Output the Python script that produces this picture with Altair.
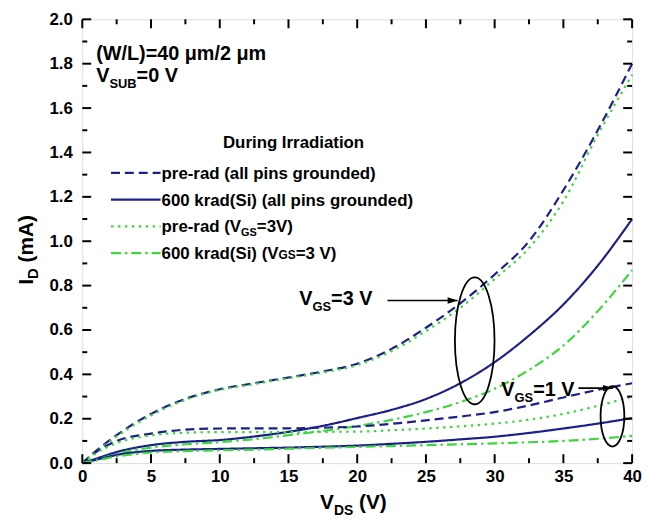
import altair as alt
import pandas as pd

# ---------------- data ----------------
V = [0, 1, 2.5, 5, 7.5, 10, 12.5, 15, 17.5, 20, 22.5, 25, 27.5, 30, 32.5, 35, 37.5, 40]

# V_GS = 3 V group
pre_gnd_3 = [0, 0.055, 0.126, 0.222, 0.289, 0.333, 0.36, 0.386, 0.413, 0.448, 0.515, 0.61, 0.72, 0.85, 1.0, 1.23, 1.5, 1.8]
pre_vgs_3 = [0, 0.05, 0.12, 0.215, 0.285, 0.33, 0.356, 0.383, 0.408, 0.442, 0.505, 0.595, 0.70, 0.83, 0.97, 1.18, 1.48, 1.75]
rad_gnd_3 = [0, 0.02, 0.05, 0.081, 0.096, 0.104, 0.12, 0.141, 0.168, 0.203, 0.24, 0.289, 0.36, 0.455, 0.575, 0.715, 0.89, 1.1]
rad_vgs_3 = [0, 0.015, 0.042, 0.07, 0.085, 0.095, 0.108, 0.126, 0.145, 0.167, 0.195, 0.23, 0.275, 0.335, 0.42, 0.53, 0.685, 0.87]

# V_GS = 1 V group
pre_gnd_1 = [0, 0.05, 0.1, 0.133, 0.151, 0.156, 0.157, 0.157, 0.16, 0.165, 0.177, 0.193, 0.21, 0.23, 0.26, 0.296, 0.33, 0.36]
pre_vgs_1 = [0, 0.045, 0.09, 0.125, 0.137, 0.14, 0.14, 0.14, 0.141, 0.142, 0.148, 0.156, 0.166, 0.178, 0.196, 0.222, 0.258, 0.30]
rad_gnd_1 = [0, 0.015, 0.037, 0.055, 0.061, 0.064, 0.067, 0.07, 0.074, 0.079, 0.087, 0.096, 0.107, 0.119, 0.136, 0.156, 0.178, 0.203]
rad_vgs_1 = [0, 0.012, 0.03, 0.048, 0.054, 0.058, 0.061, 0.065, 0.069, 0.073, 0.077, 0.081, 0.085, 0.089, 0.094, 0.10, 0.11, 0.123]

CONDS = ["pre_gnd", "rad_gnd", "pre_vgs", "rad_vgs"]
LEGEND_LABELS = ["pre-rad (all pins grounded)", "600 krad(Si) (all pins grounded)",
                 "pre-rad (VGS=3V)", "600 krad(Si) (VGS=3 V)"]

X_MAJOR = [0, 5, 10, 15, 20, 25, 30, 35, 40]
X_MINOR = [2.5, 7.5, 12.5, 17.5, 22.5, 27.5, 32.5, 37.5]
Y_MAJOR = [0.0, 0.2, 0.4, 0.6, 0.8, 1.0, 1.2, 1.4, 1.6, 1.8, 2.0]
Y_MINOR = [0.1, 0.3, 0.5, 0.7, 0.9, 1.1, 1.3, 1.5, 1.7, 1.9]

# annotations (data coordinates)
ARROW_V1 = [22.2, 36.1]
ARROW_V2 = [27.3, 38.6]
ARROW_I = [0.733, 0.338]
ELL_BIG = {"V": [28.55], "I": [0.551]}
ELL_SMALL = {"V": [38.57], "I": [0.211]}

# ---------------- styling ----------------
W, H = 555, 448
FONT = "Liberation Sans"
NAVY = "#1d2088"
GREEN = "#3cd73c"
COLORS = [NAVY, NAVY, GREEN, GREEN]
DASHES = [[9, 5], [1, 0], [2.5, 4.5], [10, 4, 2.5, 4]]

AB = {' ': 278, '(': 333, ')': 333, '=': 584, '/': 278, '-': 333, '.': 278,
      'A': 722, 'B': 722, 'D': 722, 'G': 778, 'I': 278, 'L': 611, 'S': 667, 'U': 722,
      'V': 667, 'W': 944, 'a': 556, 'd': 611, 'e': 556, 'g': 611, 'i': 278, 'k': 556,
      'm': 889, 'n': 611, 'o': 611, 'p': 611, 'r': 389, 's': 556, 't': 333, 'u': 611,
      'l': 278, 'μ': 577}
for _d in "0123456789":
    AB[_d] = 556


def tw(s, size):
    return sum(AB.get(c, 600) for c in s) * size / 1000.0


def text_piece(txt, size, x, y, angle=None):
    kw = dict(align="left", baseline="alphabetic", font=FONT, fontWeight="bold",
              fontSize=size, color="black")
    if angle is not None:
        kw["angle"] = angle
    return alt.Chart(pd.DataFrame({"t": [txt]})).mark_text(**kw).encode(
        x=alt.value(x), y=alt.value(y), text="t:N")


def rich(x0, y0, pieces):
    out = []
    x = x0
    for txt, size, dy in pieces:
        lead = len(txt) - len(txt.lstrip(" "))
        x += tw(" " * lead, size)
        t = txt.strip(" ")
        out.append(text_piece(t, size, x, y0 + dy))
        x += tw(t, size)
    return out


def rich_up(x0, y0, pieces):
    out = []
    y = y0
    for txt, size, dx in pieces:
        lead = len(txt) - len(txt.lstrip(" "))
        y -= tw(" " * lead, size)
        t = txt.strip(" ")
        out.append(text_piece(t, size, x0 + dx, y, angle=270))
        y -= tw(t, size)
    return out


# ---------------- main curves ----------------
rows = []
for cond, g, vals in [("pre_gnd", "3", pre_gnd_3), ("rad_gnd", "3", rad_gnd_3),
                      ("pre_vgs", "3", pre_vgs_3), ("rad_vgs", "3", rad_vgs_3),
                      ("pre_gnd", "1", pre_gnd_1), ("rad_gnd", "1", rad_gnd_1),
                      ("pre_vgs", "1", pre_vgs_1), ("rad_vgs", "1", rad_vgs_1)]:
    for v, i in zip(V, vals):
        rows.append({"V": v, "I": i, "cond": cond, "curve": cond + g})
df = pd.DataFrame(rows)

xs = alt.Scale(domain=[0, 40], nice=False, zero=False)
ys = alt.Scale(domain=[0, 2], nice=False, zero=False)

XAXIS = dict(values=X_MAJOR, format="d", ticks=False, tickSize=0, domain=False, grid=False,
             labelFont=FONT, labelFontSize=17, labelFontWeight="bold", labelColor="black",
             labelPadding=6, labelFlush=False, labelOverlap=False, title=None)
YAXIS = dict(values=Y_MAJOR, format=".1f", ticks=False, tickSize=0, domain=False, grid=False,
             labelFont=FONT, labelFontSize=17, labelFontWeight="bold", labelColor="black",
             labelPadding=10, labelFlush=False, labelOverlap=False, title=None)


def X(field):
    return alt.X(field, scale=xs, axis=alt.Axis(**XAXIS))


def Y(field):
    return alt.Y(field, scale=ys, axis=alt.Axis(**YAXIS))


lines = alt.Chart(df).mark_line(interpolate="monotone", strokeWidth=2.2).encode(
    x=X("V:Q"),
    y=Y("I:Q"),
    color=alt.Color("cond:N", scale=alt.Scale(domain=CONDS, range=COLORS), legend=None),
    strokeDash=alt.StrokeDash("cond:N", scale=alt.Scale(domain=CONDS, range=DASHES), legend=None),
    detail="curve:N",
    order="V:Q",
)

layers = [lines]

# ---------------- inward ticks on all four sides ----------------
def xticks(values, length, top):
    yv = length / 2 if top else H - length / 2
    return alt.Chart(pd.DataFrame({"V": values})).mark_tick(
        orient="vertical", size=length, thickness=2, color="black", opacity=1).encode(
        x=X("V:Q"), y=alt.value(yv))


def yticks(values, length, right):
    xv = W - length / 2 if right else length / 2
    return alt.Chart(pd.DataFrame({"I": values})).mark_tick(
        orient="horizontal", size=length, thickness=2, color="black", opacity=1).encode(
        y=Y("I:Q"), x=alt.value(xv))


for top in (False, True):
    layers.append(xticks(X_MAJOR, 9, top))
    layers.append(xticks(X_MINOR, 5, top))
for right in (False, True):
    layers.append(yticks(Y_MAJOR, 9, right))
    layers.append(yticks(Y_MINOR, 5, right))

# ---------------- legend (drawn inside the plot) ----------------
layers += rich(142, 130, [("During Irradiation", 17, 0)])
LEG_Y = [155, 182, 209, 236]
for k, cond in enumerate(CONDS):
    layers.append(alt.Chart(pd.DataFrame({"c": [cond]})).mark_rule(
        color=COLORS[k], strokeDash=DASHES[k], strokeWidth=2.2).encode(
        x=alt.value(29), x2=alt.value(79), y=alt.value(LEG_Y[k])))
layers += rich(80, LEG_Y[0] + 6, [(LEGEND_LABELS[0], 17, 0)])
layers += rich(80, LEG_Y[1] + 6, [(LEGEND_LABELS[1], 17, 0)])
layers += rich(80, LEG_Y[2] + 6, [("pre-rad (V", 17, 0), ("GS", 11, 4), ("=3V)", 17, 0)])
layers += rich(80, LEG_Y[3] + 6, [("600 krad(Si) (V", 17, 0), ("GS", 12, 0), ("=3 V)", 17, 0)])

# ---------------- text annotations ----------------
layers += rich(14, 41, [("(W/L)=40 μm/2 μm", 20, 0)])
layers += rich(14, 63, [("V", 20, 0), ("SUB", 13, 6), ("=0 V", 20, 0)])
layers += rich(219, 288, [("V", 20, 0), ("GS", 13, 6), ("=3 V", 20, 0)])
layers += rich(423, 380, [("V", 20, 0), ("GS", 13, 6), ("=1 V", 20, 0)])

# arrows
arr = pd.DataFrame({"V": ARROW_V1, "V2": ARROW_V2, "I": ARROW_I})
layers.append(alt.Chart(arr).mark_rule(color="black", strokeWidth=1.6).encode(
    x=X("V:Q"), x2="V2:Q", y=Y("I:Q")))
HEAD = "M0,0 L-1,-0.32 L-1,0.32 Z"
head = pd.DataFrame({"V": ARROW_V2, "I": ARROW_I})
layers.append(alt.Chart(head).mark_point(shape=HEAD, filled=True, color="black", opacity=1,
                                         size=400, strokeWidth=0).encode(
    x=X("V:Q"), y=Y("I:Q")))

# ellipses
K = 0.5523


def ellipse_path(a):
    return (f"M0,-1 C{K*a:.4f},-1 {a:.4f},{-K:.4f} {a:.4f},0 "
            f"C{a:.4f},{K:.4f} {K*a:.4f},1 0,1 "
            f"C{-K*a:.4f},1 {-a:.4f},{K:.4f} {-a:.4f},0 "
            f"C{-a:.4f},{-K:.4f} {-K*a:.4f},-1 0,-1 Z")


for d, a, hgt in [(ELL_BIG, 20 / 64.0, 128), (ELL_SMALL, 12 / 30.5, 61)]:
    layers.append(alt.Chart(pd.DataFrame(d)).mark_point(
        shape=ellipse_path(a), filled=False, color="black", opacity=1,
        strokeWidth=1.8, size=hgt * hgt).encode(
        x=X("V:Q"), y=Y("I:Q")))

# ---------------- axis titles with subscripts ----------------
layers += rich(240, 494, [("V", 21, 0), ("DS", 14, 6), (" (V)", 21, 0)])
layers += rich_up(-50, 268, [("I", 21, 0), ("D", 15, 5), (" (mA)", 21, 0)])

chart = alt.layer(*layers).properties(
    width=W, height=H,
    autosize=alt.AutoSizeParams(type="none"),
    padding={"left": 75, "top": 9, "right": 12, "bottom": 56},
).configure_view(stroke="black", strokeWidth=2).configure(background="white")

chart.save("out.html", embed_options={"renderer": "svg", "actions": False})
